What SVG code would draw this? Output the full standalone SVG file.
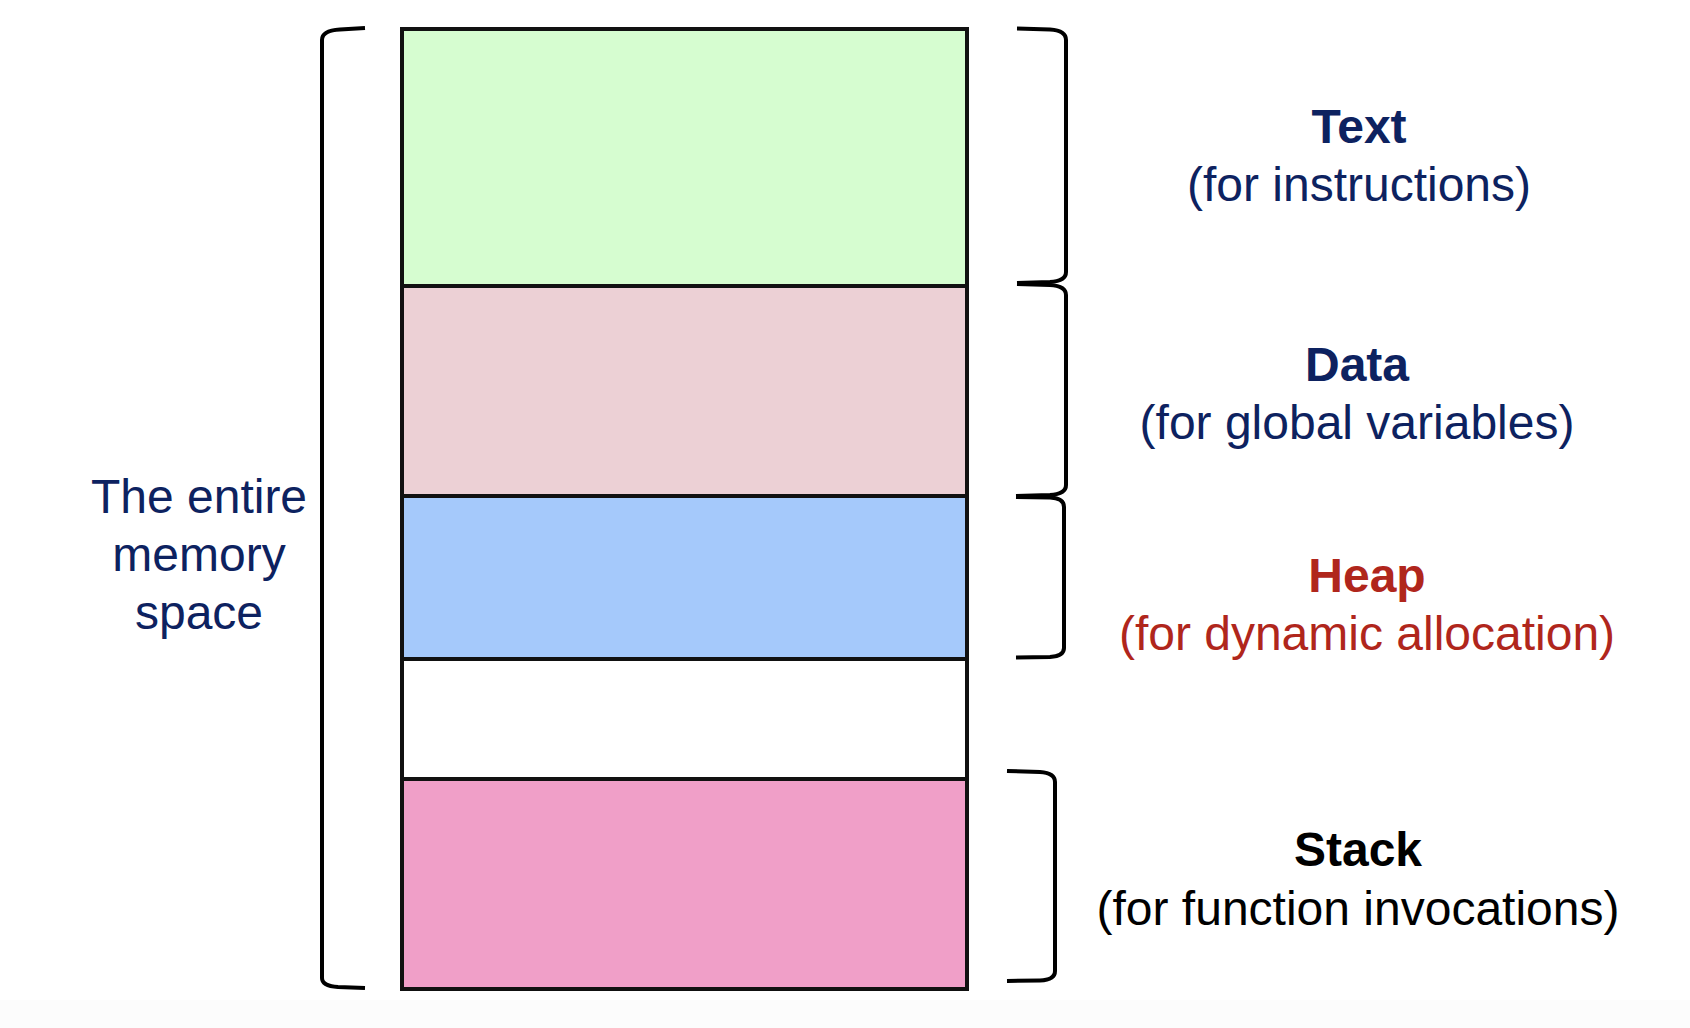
<svg xmlns="http://www.w3.org/2000/svg" width="1690" height="1028" viewBox="0 0 1690 1028">
  <style>
    .seg { stroke: #111; stroke-width: 4; }
    .brace { fill: none; stroke: #000; stroke-width: 4; stroke-linecap: butt; stroke-linejoin: round; }
    text { font-family: "Liberation Sans", Arial, Helvetica, sans-serif; font-size: 48px; text-anchor: middle; }
    .title { font-weight: bold; }
    .navy { fill: #0d2260; }
    .red { fill: #b0261c; }
    .black { fill: #000; }
  </style>

  <!-- page background with faint footer band -->
  <rect x="0" y="0" width="1690" height="1028" fill="#ffffff"/>
  <rect x="0" y="1000" width="1690" height="28" fill="#fcfcfc"/>

  <!-- memory segments, top to bottom -->
  <g id="segment-text">
    <rect class="seg" x="402" y="29" width="565" height="257" fill="#d6fdd0"/>
  </g>
  <g id="segment-data">
    <rect class="seg" x="402" y="286" width="565" height="210" fill="#ecd0d5"/>
  </g>
  <g id="segment-heap">
    <rect class="seg" x="402" y="496" width="565" height="163" fill="#a5c9fb"/>
  </g>
  <g id="segment-free">
    <rect class="seg" x="402" y="659" width="565" height="120" fill="#ffffff"/>
  </g>
  <g id="segment-stack">
    <rect class="seg" x="402" y="779" width="565" height="210" fill="#f09fc8"/>
  </g>

  <!-- brackets -->
  <g id="connectors">
    <path class="brace" d="M365,28 L340,29.5 Q322,30.5 322,40 L322,978 Q322,986 338,987 L365,988"/>
    <path class="brace" d="M1017,28.5 L1050,29.5 Q1066,30.5 1066,40 L1066,272 Q1066,281 1050,282 L1017,283"/>
    <path class="brace" d="M1017,284 L1050,285 Q1066,286 1066,295 L1066,485 Q1066,494 1050,495 L1016,496"/>
    <path class="brace" d="M1016,497 L1050,497.5 Q1064,498 1064,507 L1064,648 Q1064,656 1050,657 L1016,657.5"/>
    <path class="brace" d="M1007,771 L1040,772 Q1055,773 1055,782 L1055,971 Q1055,980 1040,980.5 L1007,981"/>
  </g>

  <!-- labels -->
  <g id="label-memory">
    <text class="navy" x="199" y="513">The entire</text>
    <text class="navy" x="199" y="571">memory</text>
    <text class="navy" x="199" y="629">space</text>
  </g>
  <g id="label-text">
    <text class="navy title" x="1359" y="143">Text</text>
    <text class="navy" x="1359" y="201">(for instructions)</text>
  </g>
  <g id="label-data">
    <text class="navy title" x="1357" y="381">Data</text>
    <text class="navy" x="1357" y="439">(for global variables)</text>
  </g>
  <g id="label-heap">
    <text class="red title" x="1367" y="592">Heap</text>
    <text class="red" x="1367" y="650">(for dynamic allocation)</text>
  </g>
  <g id="label-stack">
    <text class="black title" x="1358" y="866">Stack</text>
    <text class="black" x="1358" y="925">(for function invocations)</text>
  </g>
</svg>
